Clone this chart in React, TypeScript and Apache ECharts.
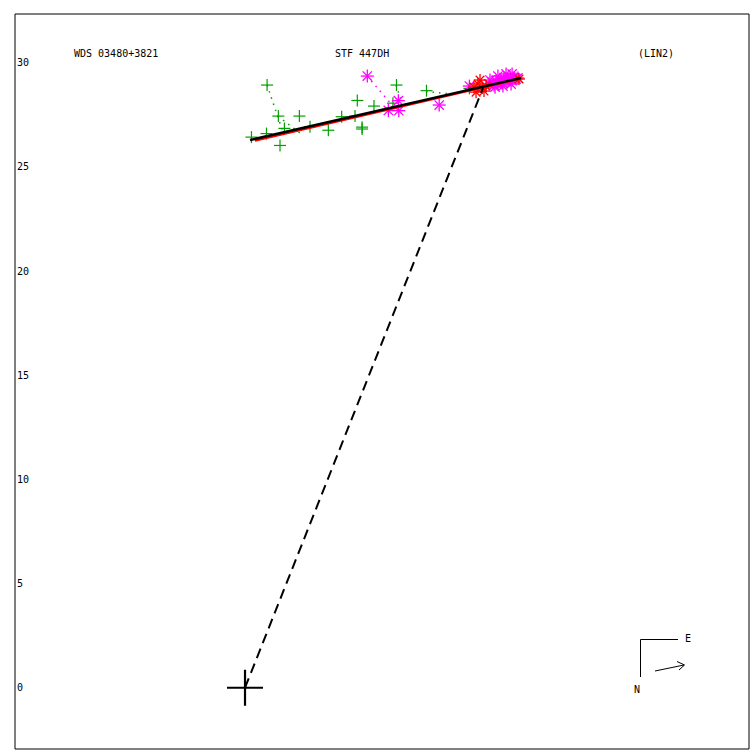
import React, { useEffect, useRef } from "react";
import * as echarts from "echarts";

const FONT = "DejaVu Sans Mono";

const yTicks = [0, 5, 10, 15, 20, 25, 30];
const titleTexts = ["WDS 03480+3821", "STF 447DH", "(LIN2)"];

// observations (x, y) in arcsec
const greenPlus: number[][] = [
  [1.06, 28.93], [0.31, 26.43], [1.03, 26.6], [1.6, 27.44], [2.61, 27.44],
  [1.89, 26.85], [1.68, 26.03], [3.12, 26.93], [4.0, 26.76], [4.64, 27.41],
  [5.39, 28.19], [5.62, 26.82], [5.62, 26.91], [6.19, 27.92], [7.27, 28.93],
  [8.71, 28.66], [10.77, 28.77], [7.1, 28.06], [5.28, 27.44],
];
const magentaStars: number[][] = [
  [5.87, 29.36], [7.36, 28.18], [6.88, 27.71], [7.38, 27.7], [9.32, 27.97], [10.77, 28.88],
  [11.71, 28.98], [11.86, 29.07], [11.95, 28.93], [12.05, 29.12], [12.14, 28.98],
  [12.24, 29.17], [12.34, 29.03], [12.43, 29.27], [12.53, 29.12], [12.62, 29.22],
  [12.72, 29.31], [12.82, 29.17], [12.91, 29.27], [13.01, 29.22], [13.1, 29.27],
  [12.0, 28.83], [12.38, 28.88], [12.77, 28.98],
  [12.14, 29.36], [12.53, 29.46], [12.82, 29.46], [11.76, 29.17],
];
const redStars: number[][] = [
  [10.99, 28.83], [11.18, 28.98], [11.38, 28.79], [11.57, 28.88], [11.47, 28.64], [13.15, 29.22],
  [11.28, 29.17], [11.09, 28.59],
];
const fitLine: number[][] = [[0.24, 26.29], [13.25, 29.27]];
const fitLineRed: number[][] = [[0.48, 26.26], [13.2, 29.22]];
const radiusLine: number[][] = [[0, 0], [11.42, 28.78]];
const primary: number[][] = [[0, 0]];
const greenResiduals: number[][][] = [
  [[1.06, 28.93], [1.82, 26.68]],
  [[1.58, 27.44], [2.64, 26.62]],
  [[8.69, 28.62], [10.08, 28.48]],
  [[7.25, 28.93], [7.54, 28.06]],
];
const magentaResiduals: number[][][] = [
  [[5.86, 29.36], [7.06, 27.97]],
];

function plusSeries(data: number[][], color: string, h: number, lw: number, z: number) {
  return {
    type: "custom",
    data,
    encode: { x: 0, y: 1 },
    z,
    renderItem: (_p: any, api: any) => {
      const c = api.coord([api.value(0), api.value(1)]);
      const st = { stroke: color, lineWidth: lw, fill: "none" };
      return {
        type: "group",
        children: [
          { type: "line", shape: { x1: c[0] - h, y1: c[1], x2: c[0] + h, y2: c[1] }, style: st },
          { type: "line", shape: { x1: c[0], y1: c[1] - h, x2: c[0], y2: c[1] + h }, style: st },
        ],
      };
    },
  };
}

function starSeries(data: number[][], color: string, h: number, z: number) {
  return {
    type: "custom",
    data,
    encode: { x: 0, y: 1 },
    z,
    renderItem: (_p: any, api: any) => {
      const c = api.coord([api.value(0), api.value(1)]);
      const d = h * 0.72;
      const st = { stroke: color, lineWidth: 1.3, fill: "none" };
      return {
        type: "group",
        children: [
          { type: "line", shape: { x1: c[0] - h, y1: c[1], x2: c[0] + h, y2: c[1] }, style: st },
          { type: "line", shape: { x1: c[0], y1: c[1] - h, x2: c[0], y2: c[1] + h }, style: st },
          { type: "line", shape: { x1: c[0] - d, y1: c[1] - d, x2: c[0] + d, y2: c[1] + d }, style: st },
          { type: "line", shape: { x1: c[0] - d, y1: c[1] + d, x2: c[0] + d, y2: c[1] - d }, style: st },
        ],
      };
    },
  };
}

function residualSeries(pairs: number[][][], color: string) {
  const flat = pairs.map((p) => [p[0][0], p[0][1], p[1][0], p[1][1]]);
  return {
    type: "custom",
    data: flat,
    encode: { x: [0, 2], y: [1, 3] },
    z: 2,
    renderItem: (_p: any, api: any) => {
      const a = api.coord([api.value(0), api.value(1)]);
      const b = api.coord([api.value(2), api.value(3)]);
      return {
        type: "line",
        shape: { x1: a[0], y1: a[1], x2: b[0], y2: b[1] },
        style: { stroke: color, lineWidth: 1.5, lineDash: [1.5, 5], fill: "none" },
      };
    },
  };
}

export default function App() {
  const ref = useRef<HTMLDivElement>(null);
  useEffect(() => {
    document.body.style.margin = "0";
    const chart = echarts.init(ref.current!, null, { renderer: "svg" });
    const textStyle = { fontFamily: FONT, fontSize: 10, fontWeight: "normal" as const, color: "#000" };
    chart.setOption({
      animation: false,
      backgroundColor: "#fff",
      title: [
        { text: titleTexts[0], left: 74, top: 48, padding: 0, textStyle },
        { text: titleTexts[1], left: 335, top: 48, padding: 0, textStyle },
        { text: titleTexts[2], left: 638, top: 48, padding: 0, textStyle },
      ],
      grid: {
        left: 15, top: 14, width: 734, height: 735,
        show: true, borderColor: "#000", borderWidth: 1, backgroundColor: "transparent",
      },
      xAxis: {
        type: "value", min: -11.04, max: 24.19,
        axisLine: { show: false }, axisTick: { show: false }, axisLabel: { show: false }, splitLine: { show: false },
      },
      yAxis: {
        type: "value", min: -2.94, max: 32.34,
        axisLine: { show: false }, axisTick: { show: false }, splitLine: { show: false },
        axisLabel: {
          inside: true, margin: 2, customValues: yTicks, showMinLabel: true, showMaxLabel: true,
          fontFamily: FONT, fontSize: 10, color: "#000", align: "left", verticalAlign: "middle",
        },
      },
      series: [
        residualSeries(greenResiduals, "#00a000"),
        residualSeries(magentaResiduals, "#ff00ff"),
        plusSeries(greenPlus, "#00a000", 6, 1.2, 3),
        starSeries(magentaStars, "#ff00ff", 6.5, 4),
        starSeries(redStars, "#ff0000", 6, 5),
        {
          type: "line", data: fitLineRed, symbol: "none", z: 6,
          lineStyle: { color: "#ff0000", width: 2 },
        },
        {
          type: "line", data: fitLine, symbol: "none", z: 7,
          lineStyle: { color: "#000", width: 2.5 },
        },
        {
          type: "line", data: radiusLine, symbol: "none", z: 7,
          lineStyle: { color: "#000", width: 2, type: [10, 6] },
        },
        plusSeries(primary, "#000", 18, 2.2, 8),
      ],
      graphic: [
        { type: "line", shape: { x1: 640.5, y1: 639.5, x2: 640.5, y2: 677 }, style: { stroke: "#000", lineWidth: 1 } },
        { type: "line", shape: { x1: 640.5, y1: 639.5, x2: 678, y2: 639.5 }, style: { stroke: "#000", lineWidth: 1 } },
        { type: "line", shape: { x1: 655, y1: 671, x2: 684, y2: 665 }, style: { stroke: "#000", lineWidth: 1 } },
        { type: "polyline", shape: { points: [[677, 661.5], [684.5, 665], [679, 670]] }, style: { stroke: "#000", lineWidth: 1, fill: "none" } },
        { type: "text", x: 685, y: 633, style: { text: "E", font: `10px "${FONT}"`, fill: "#000" } },
        { type: "text", x: 634, y: 684, style: { text: "N", font: `10px "${FONT}"`, fill: "#000" } },
      ],
    });
    return () => chart.dispose();
  }, []);
  return <div ref={ref} style={{ width: 750, height: 750, position: "absolute", left: 0, top: 0 }} />;
}
